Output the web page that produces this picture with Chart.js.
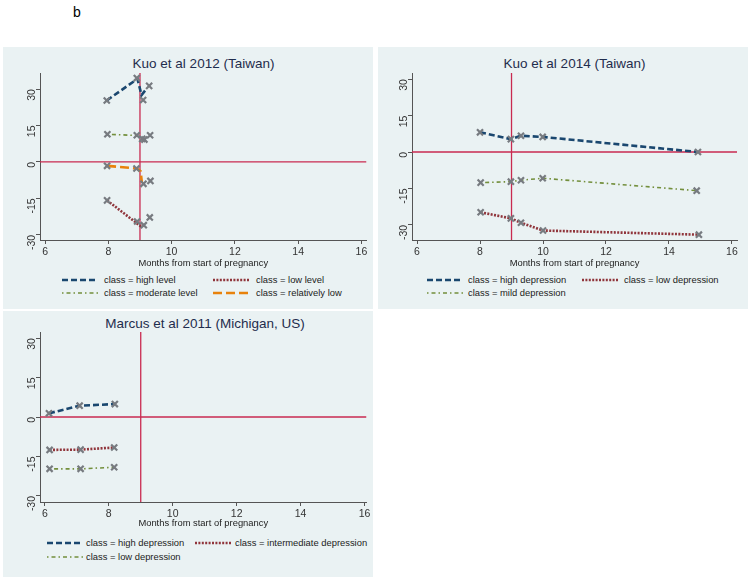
<!DOCTYPE html>
<html>
<head>
<meta charset="utf-8">
<script src="https://cdn.jsdelivr.net/npm/chart.js@4.4.1/dist/chart.umd.min.js"></script>
<style>
  body { margin: 0; background: #fff; font-family: "Liberation Sans", Arial, sans-serif; }
  #wrap { position: relative; width: 750px; height: 580px; overflow: hidden; }
  .panel { position: absolute; background: #eaf2f3; }
  .panel canvas { position: absolute; left: 0; top: 0; }
  .ttl { position: absolute; text-align: center; font-size: 13.5px; color: #1f2d4d; white-space: nowrap; }
  .leg { position: absolute; font-size: 9.4px; color: #222; white-space: nowrap; height: 13px; line-height: 13px; }
  .leg svg { position: absolute; left: 0; top: 1.5px; }
  .leg span { position: absolute; top: 0; }
  #tag { position: absolute; left: 73px; top: 4px; font-size: 14px; color: #000; }
</style>
</head>
<body>
<div id="wrap">
  <div id="tag">b</div>
  <div class="panel" id="p1" style="left:3px;top:47px;width:370px;height:262px"></div>
  <div class="panel" id="p2" style="left:378px;top:47px;width:370px;height:262px"></div>
  <div class="panel" id="p3" style="left:3px;top:311px;width:370px;height:266px"></div>
</div>
<script>
// Kuo et al 2012 (Taiwan): observed means (markers)
const k12HighX = [7.95, 8.9, 9.1, 9.29];
const k12HighY = [25.3, 34.5, 25.5, 31.3];
const k12ModX = [7.97, 8.9, 9.07, 9.14, 9.32];
const k12ModY = [11.4, 11.0, 9.5, 9.2, 11.0];
const k12RelX = [7.96, 8.89, 9.11, 9.33];
const k12RelY = [-1.6, -2.7, -9.0, -7.8];
const k12LowX = [7.96, 8.91, 9.12, 9.31];
const k12LowY = [-15.8, -24.5, -26.0, -22.8];
// Kuo 2012 fitted lines
const k12HighLineX = [7.95, 8.92, 9.05, 9.2];
const k12HighLineY = [25.3, 34.2, 27.5, 30.0];
const k12ModLineX = [7.97, 8.9, 9.1];
const k12ModLineY = [11.4, 10.9, 9.4];
const k12RelLineX = [7.96, 8.9, 9.02, 9.06];
const k12RelLineY = [-1.6, -2.7, -3.8, -8.5];
const k12LowLineX = [7.96, 9.03, 9.15];
const k12LowLineY = [-15.8, -26.5, -25.5];

// Kuo et al 2014 (Taiwan)
const k14HighX = [8.0, 8.98, 9.3, 9.99, 14.92];
const k14HighY = [8.1, 5.3, 6.7, 6.2, 0.0];
const k14MildX = [8.02, 8.98, 9.3, 9.99, 14.88];
const k14MildY = [-12.6, -12.2, -11.6, -10.8, -15.9];
const k14LowX = [8.02, 8.98, 9.3, 10.0, 14.95];
const k14LowY = [-24.8, -27.3, -29.1, -32.3, -34.0];

// Marcus et al 2011 (Michigan, US)
const m11HighX = [6.13, 7.09, 8.19];
const m11HighY = [1.4, 4.3, 4.9];
const m11InterX = [6.15, 7.12, 8.17];
const m11InterY = [-12.5, -12.4, -11.6];
const m11LowX = [6.15, 7.12, 8.17];
const m11LowY = [-19.7, -19.7, -19.1];

const xTicks = [6, 8, 10, 12, 14, 16];
const yTicks = [-30, -15, 0, 15, 30];
const birthMonth = 9;

const k12Labels = ['class = high level', 'class = low level', 'class = moderate level', 'class = relatively low'];
const k14Labels = ['class = high depression', 'class = low depression', 'class = mild depression'];
const m11Labels = ['class = high depression', 'class = intermediate depression', 'class = low depression'];

const sty = {
  navy:   { color: '#1a476f', dash: [6, 3], width: 2.6 },
  maroon: { color: '#90353b', dash: [2, 1.4], width: 2.6 },
  green:  { color: '#738f3c', dash: [1.5, 3, 4, 3], width: 1.6 },
  orange: { color: '#e8820c', dash: [9, 4], width: 2.6 }
};
const refColor = '#c92a50';
const markColor = '#777b80';

const pts = (xs, ys) => xs.map((x, i) => ({ x: x, y: ys[i] }));

function lineSet(xs, ys, s) {
  return { data: pts(xs, ys), showLine: true, borderColor: s.color, borderDash: s.dash,
    borderWidth: s.width, pointRadius: 0, order: 1 };
}
function markSet(xs, ys) {
  return { data: pts(xs, ys), showLine: false, pointStyle: 'crossRot', pointRadius: 4.3,
    borderColor: markColor, backgroundColor: markColor, borderWidth: 2.2, order: 0 };
}

function addPanel(id, opt) {
  const p = document.getElementById(id);
  const t = document.createElement('div');
  t.className = 'ttl';
  t.textContent = opt.title;
  t.style.left = opt.plotL + 'px';
  t.style.width = (opt.plotR - opt.plotL) + 'px';
  t.style.top = opt.titleTop + 'px';
  p.appendChild(t);

  const cv = document.createElement('canvas');
  p.appendChild(cv);
  cv.width = 370; cv.height = opt.canvasH;
  cv.style.width = '370px'; cv.style.height = opt.canvasH + 'px';

  const ds = opt.sets.slice();
  ds.push({ data: [{ x: birthMonth, y: opt.yMin }, { x: birthMonth, y: opt.yMax }], showLine: true,
    borderColor: refColor, borderWidth: 1.3, pointRadius: 0, order: 2 });
  ds.push({ data: [{ x: opt.xMin, y: 0 }, { x: opt.xMax, y: 0 }], showLine: true,
    borderColor: refColor, borderWidth: 1.3, pointRadius: 0, order: 2 });

  new Chart(cv, {
    type: 'scatter',
    data: { datasets: ds },
    options: {
      responsive: false,
      animation: false,
      events: [],
      layout: { padding: { top: opt.plotT, right: 370 - opt.plotR, left: 0, bottom: 0 } },
      plugins: { legend: { display: false }, tooltip: { enabled: false } },
      scales: {
        x: {
          type: 'linear', min: opt.xMin, max: opt.xMax,
          afterBuildTicks: (s) => { s.ticks = xTicks.map(v => ({ value: v })); },
          afterFit: (s) => { s.height = opt.canvasH - opt.plotB; },
          grid: { display: true, drawOnChartArea: false, tickLength: 4, color: '#555' },
          border: { color: '#555', width: 1 },
          ticks: { color: '#333', font: { size: 10.5, family: 'Liberation Sans' }, padding: 2, maxRotation: 0 },
          title: { display: true, text: 'Months from start of pregnancy', color: '#222',
            font: { size: 9.4, family: 'Liberation Sans' }, padding: { top: 0, bottom: 0 } }
        },
        y: {
          type: 'linear', min: opt.yMin, max: opt.yMax,
          afterBuildTicks: (s) => { s.ticks = yTicks.map(v => ({ value: v })); },
          afterFit: (s) => { s.width = opt.plotL; },
          grid: { display: true, drawOnChartArea: false, tickLength: 4, color: '#555' },
          border: { color: '#555', width: 1 },
          ticks: { color: '#333', font: { size: 10.5, family: 'Liberation Sans' }, padding: 4,
            minRotation: 90, maxRotation: 90 }
        }
      }
    }
  });

  opt.legend.forEach((it) => {
    const d = document.createElement('div');
    d.className = 'leg';
    d.style.left = it.x + 'px';
    d.style.top = it.y + 'px';
    const s = it.s;
    d.innerHTML = '<svg width="38" height="10"><line x1="1" y1="5" x2="37" y2="5" stroke="' + s.color +
      '" stroke-width="' + s.width + '" stroke-dasharray="' + s.dash.join(' ') + '"/></svg>' +
      '<span style="left:' + it.tx + 'px"></span>';
    d.querySelector('span').textContent = it.label;
    p.appendChild(d);
  });
}

addPanel('p1', {
  title: 'Kuo et al 2012 (Taiwan)', titleTop: 9,
  canvasH: 222, plotL: 37, plotR: 364, plotT: 26, plotB: 193,
  xMin: 5.84, xMax: 16.16, yMin: -32.1, yMax: 36.6,
  sets: [
    markSet(k12HighX, k12HighY), markSet(k12ModX, k12ModY), markSet(k12RelX, k12RelY), markSet(k12LowX, k12LowY),
    lineSet(k12HighLineX, k12HighLineY, sty.navy), lineSet(k12LowLineX, k12LowLineY, sty.maroon),
    lineSet(k12ModLineX, k12ModLineY, sty.green), lineSet(k12RelLineX, k12RelLineY, sty.orange)
  ],
  legend: [
    { x: 58, y: 226, s: sty.navy, label: k12Labels[0], tx: 43 },
    { x: 209, y: 226, s: sty.maroon, label: k12Labels[1], tx: 44 },
    { x: 58, y: 239, s: sty.green, label: k12Labels[2], tx: 43 },
    { x: 209, y: 239, s: sty.orange, label: k12Labels[3], tx: 44 }
  ]
});

addPanel('p2', {
  title: 'Kuo et al 2014 (Taiwan)', titleTop: 9,
  canvasH: 222, plotL: 34, plotR: 359, plotT: 26, plotB: 193,
  xMin: 5.84, xMax: 16.16, yMin: -36.2, yMax: 32.5,
  sets: [
    markSet(k14HighX, k14HighY), markSet(k14MildX, k14MildY), markSet(k14LowX, k14LowY),
    lineSet(k14HighX, k14HighY, sty.navy), lineSet(k14LowX, k14LowY, sty.maroon),
    lineSet(k14MildX, k14MildY, sty.green)
  ],
  legend: [
    { x: 48, y: 226, s: sty.navy, label: k14Labels[0], tx: 42 },
    { x: 203, y: 226, s: sty.maroon, label: k14Labels[1], tx: 43 },
    { x: 48, y: 239, s: sty.green, label: k14Labels[2], tx: 42 }
  ]
});

addPanel('p3', {
  title: 'Marcus et al 2011 (Michigan, US)', titleTop: 5,
  canvasH: 218, plotL: 37, plotR: 367, plotT: 21, plotB: 191,
  xMin: 5.85, xMax: 16.06, yMin: -32.3, yMax: 32.3,
  sets: [
    markSet(m11HighX, m11HighY), markSet(m11InterX, m11InterY), markSet(m11LowX, m11LowY),
    lineSet(m11HighX, m11HighY, sty.navy), lineSet(m11InterX, m11InterY, sty.maroon),
    lineSet(m11LowX, m11LowY, sty.green)
  ],
  legend: [
    { x: 43, y: 225, s: sty.navy, label: m11Labels[0], tx: 40 },
    { x: 191, y: 225, s: sty.maroon, label: m11Labels[1], tx: 41 },
    { x: 43, y: 239, s: sty.green, label: m11Labels[2], tx: 40 }
  ]
});
</script>
</body>
</html>
